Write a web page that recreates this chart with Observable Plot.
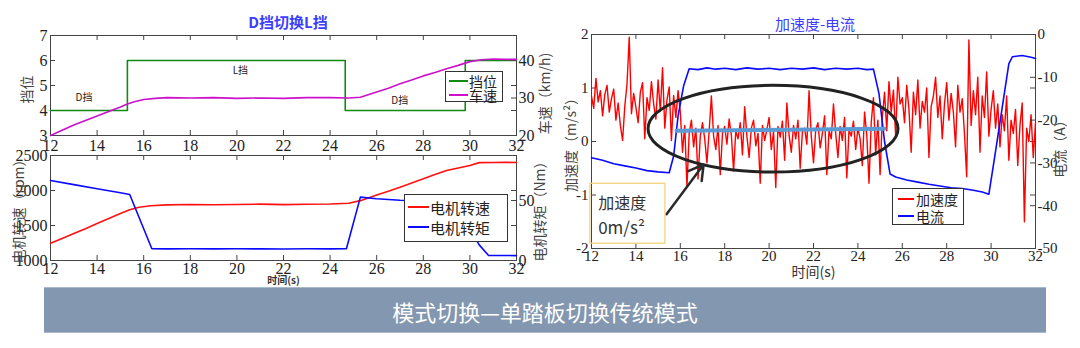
<!DOCTYPE html>
<html>
<head>
<meta charset="utf-8">
<script src="https://cdn.jsdelivr.net/npm/d3@7"></script>
<script src="https://cdn.jsdelivr.net/npm/@observablehq/plot@0.6"></script>
<style>
  html, body { margin: 0; padding: 0; background: #fff; }
  #chart { position: relative; width: 1080px; height: 348px; overflow: hidden; background: #fff;
           font-family: "Noto Sans CJK SC", "Noto Sans", sans-serif; }
  #chart svg { position: absolute; left: 0; top: 0; }
  .title { position: absolute; color: #3d3dff; font-size: 15px; white-space: nowrap;
           transform: translate(-50%, -50%); line-height: 1; }
  .legend { position: absolute; background: #fff; border: 1px solid #333; box-sizing: border-box; }
  .legend .row { position: absolute; white-space: nowrap; color: #222; }
  .legend .sw { position: absolute; height: 2px; }
  .banner { position: absolute; left: 44px; top: 287px; width: 1002px; height: 46px;
            background: #8497b0; color: #fff; font-size: 22px; line-height: 46px; text-align: center;
            border-top: 1px solid #a9b8cc; border-bottom: 1px solid #a9b8cc; box-sizing: border-box; }
</style>
</head>
<body>
<div id="chart"></div>
<script>
// ---------- data ----------
const timeTicks = [12, 14, 16, 18, 20, 22, 24, 26, 28, 30, 32];

// D → L gear change: gear position (step) and vehicle speed (km/h)
const gearT = [12, 15.3, 24.65, 29.8, 32];
const gearV = [4, 6, 4, 6, 6];
const gearTicks = [3, 4, 5, 6, 7];
const gearNotes = [
  {t: 13.44, v: 4.49, label: "D挡"},
  {t: 20.15, v: 5.6, label: "L挡"},
  {t: 26.99, v: 4.37, label: "D挡"}
];
const speedT = [12, 12.5, 13, 13.5, 14, 14.5, 15, 15.3, 15.6, 16, 16.5, 17, 18, 19, 20, 21, 22, 23, 24, 24.8,
                25.3, 25.8, 26.5, 27, 27.5, 28, 28.5, 29, 29.5, 30, 30.5, 31, 31.5, 32];
const speedV = [20.0, 21.4, 22.8, 24.0, 25.2, 26.4, 27.6, 28.4, 29.0, 29.6, 29.9, 30.1, 30.0, 30.1, 29.9, 30.0,
                29.9, 30.1, 30.1, 30.0, 30.2, 31.2, 32.6, 33.8, 34.8, 35.9, 36.8, 37.8, 38.7, 39.7, 40.2, 40.4,
                40.3, 40.3];
const speedTicks = [20, 30, 40];

// motor speed (rpm) and motor torque (Nm)
const rpmT = [12, 12.5, 13, 13.5, 14, 14.5, 15, 15.4, 15.8, 16.3, 17, 18, 19, 20, 21, 22, 23, 24, 24.8, 25.3,
              26, 26.5, 27, 27.5, 28, 28.5, 29, 29.5, 30, 30.4, 31, 31.5, 32];
const rpmV = [1245, 1315, 1385, 1455, 1530, 1600, 1672, 1725, 1760, 1782, 1795, 1800, 1796, 1800, 1805, 1798,
              1803, 1808, 1818, 1855, 1935, 1990, 2048, 2108, 2168, 2228, 2285, 2322, 2358, 2398, 2400, 2402, 2400];
const rpmTicks = [1000, 1500, 2000, 2500];
const torqueT = [12, 13, 14, 15, 15.4, 16.35, 17, 18, 19, 20, 21, 22, 23, 24, 24.7, 25.3, 26, 27, 28, 29, 29.3,
                 30.4, 30.8, 31.5, 32];
const torqueV = [66.7, 63.2, 59.8, 56.4, 55.0, 9.8, 9.7, 9.8, 9.7, 9.8, 9.7, 9.6, 9.8, 9.7, 9.8, 52.8, 51.5,
                 50.2, 49.6, 49.2, 48.8, 13.0, 4.2, 4.2, 4.1];
const torqueTicks = [0, 50];

// acceleration (m/s², sampled every 0.1 s from 12 s) and battery current (A)
const accStart = 12;
const accSamplesPerSecond = 10;
const accV = [
  0.85, 0.62, 1.18, 0.74, 0.95, 0.48, 0.88, 1.05, 0.55, 0.80,
  0.98, 0.40, 0.72, 0.30, 0.02, 0.66, 1.08, 1.95, 0.52, 0.90,
  0.64, 0.35, 0.92, 1.10, 0.05, 0.82, 0.58, 1.12, 0.70, 0.42,
  1.15, 0.56, 1.38, 0.25, 0.78, 1.02, 0.02, 0.86, 0.45, 0.95,
  0.55, -0.20, 0.30, -0.85, 0.15, 0.40, -0.10, 0.25, -0.70, 0.10,
  0.35, 0.05, -0.40, 0.20, 0.85, 0.10, -0.15, 0.30, -0.62, 0.15,
  0.28, -0.05, 0.42, 0.12, -0.55, 0.20, 0.05, 0.35, -0.25, 0.65,
  0.10, -0.30, 0.25, 0.40, -0.08, 0.15, -0.78, 0.30, 0.02, 0.22,
  0.45, -0.15, 0.18, -0.86, 0.28, 0.08, 0.38, -0.35, 0.72, 0.12,
  -0.20, 0.30, 0.05, 0.40, -0.50, 0.18, 0.25, -0.05, 0.95, 0.10,
  -0.40, 0.22, 0.35, -0.12, 0.15, 0.48, -0.62, 0.20, 0.05, 0.70,
  0.15, -0.30, 0.28, 0.02, 0.45, -0.68, 0.22, 0.10, 0.38, -0.15,
  0.25, 0.05, -0.45, 0.55, 0.12, -0.78, 0.35, 0.82, -0.25, 0.40,
  -0.62, 0.45, 0.92, 0.20, 1.12, 0.55, 0.96, 0.10, 1.20, 0.70,
  0.82, 0.35, 1.05, 0.60, -0.20, 0.92, 0.50, 1.15, 0.25, 0.75,
  0.55, 1.00, -0.30, 0.65, 0.85, 1.20, 0.45, 0.85, 0.05, 0.70,
  1.10, 0.40, 0.90, 0.55, -0.10, 1.05, 0.55, 0.80, 0.15, -0.66,
  1.90, 0.30, 0.95, 0.50, 1.20, -0.20, 0.85, 0.45, 1.30, 0.10,
  0.60, 0.95, 0.25, 0.70, -0.10, 0.50, 0.20, 0.85, -0.35, 0.40,
  0.15, 0.60, -0.45, 0.30, 0.72, -1.50, 0.25, 0.00, 0.50, -0.30,
  0.35
];
const accTicks = [-2, -1, 0, 1, 2];
const currentT = [12, 12.5, 13, 13.5, 14, 14.5, 15, 15.5, 15.7, 15.9, 16.15, 16.4, 16.8, 17.2, 17.6, 18, 18.5,
                  19, 19.5, 20, 20.5, 21, 21.5, 22, 22.5, 23, 23.5, 24, 24.4, 24.7, 24.95, 25.2, 25.45, 25.7,
                  26.2, 26.7, 27.2, 27.7, 28.2, 28.7, 29.2, 29.6, 29.9, 30.15, 30.5, 30.8, 30.96, 31.4, 31.8, 32];
const currentV = [-28.8, -29.4, -30.2, -30.7, -31.2, -31.8, -32.1, -32.3, -28.4, -19.0, -12.0, -8.0, -8.2, -7.8,
                  -8.1, -7.9, -8.2, -7.8, -8.1, -7.9, -8.2, -7.9, -8.1, -7.8, -8.2, -7.9, -8.1, -7.9, -8.2, -8.1,
                  -13.8, -25.0, -32.6, -33.3, -34.0, -34.5, -35.0, -35.4, -35.8, -36.0, -36.4, -36.8, -37.3,
                  -29.0, -17.1, -6.8, -5.2, -4.9, -5.3, -5.6];
const currentTicks = [0, -10, -20, -30, -40, -50];

// annotation of the single-pedal cruise phase (acceleration scale)
const cruiseZone = {t: 20.2, v: 0.23, halfT: 5.63, halfV: 0.81};
const cruiseLine = [{t: 15.83, v: 0.2}, {t: 25.2, v: 0.24}];
const cruiseArrow = [{t1: 15.38, v1: -1.36, t2: 17.05, v2: -0.43}];
const calloutBox = [{t1: 11.95, t2: 15.33, v1: -1.91, v2: -0.79}];
const calloutText = [{t: 12.3, v: -1.16, text: "加速度", size: 16}, {t: 12.3, v: -1.63, text: "0m/s²", size: 17}];

// text
const titles = ["D挡切换L挡", "加速度-电流"];
const legendTL = ["挡位", "车速"];
const legendBL = ["电机转速", "电机转矩"];
const legendR = ["加速度", "电流"];
const bannerText = "模式切换—单踏板切换传统模式";

// ---------- layout & style ----------
const W = 1080, H = 348;
const TL = {left: 50, right: 516, top: 35, bottom: 135};
const BL = {left: 50, right: 516, top: 155, bottom: 260};
const RP = {left: 591, right: 1035, top: 34, bottom: 248};
const SERIF = "'Liberation Serif', 'DejaVu Serif', serif";
const CJK = "'Noto Sans CJK SC', sans-serif";
const AXIS = "#444";
const TICK_LEN = 5;

const zip = (xs, ys) => xs.map((t, i) => ({t, v: ys[i]}));
const gear = zip(gearT, gearV);
const speed = zip(speedT, speedV);
const rpm = zip(rpmT, rpmV);
const torque = zip(torqueT, torqueV);
const acc = accV.map((v, i) => ({t: accStart + i / accSamplesPerSecond, v}));
const current = zip(currentT, currentV);

function layer(box, yDomain, marks) {
  return Plot.plot({
    width: W, height: H,
    marginLeft: box.left, marginRight: W - box.right, marginTop: box.top, marginBottom: H - box.bottom,
    x: {domain: [12, 32], axis: null},
    y: {domain: yDomain, axis: null},
    style: "background: transparent; overflow: visible;",
    marks
  });
}

// inward tick marks on the chosen sides of the frame
function ticksX(box, ticks) {
  const fh = box.bottom - box.top;
  return [
    Plot.tickX(ticks, {x: d => d, insetTop: fh - TICK_LEN, stroke: AXIS}),
    Plot.tickX(ticks, {x: d => d, insetBottom: fh - TICK_LEN, stroke: AXIS})
  ];
}
function ticksY(box, ticks, sides) {
  const fw = box.right - box.left;
  return sides.map(s => s === "left"
    ? Plot.tickY(ticks, {y: d => d, insetRight: fw - TICK_LEN, stroke: AXIS})
    : Plot.tickY(ticks, {y: d => d, insetLeft: fw - TICK_LEN, stroke: AXIS}));
}
function xLabels(ticks, pad, size) {
  return Plot.axisX(ticks, {anchor: "bottom", tickSize: 0, tickPadding: pad, tickFormat: d => String(d),
    fontSize: size, fontFamily: SERIF, color: "#222", label: null});
}
function yLabels(ticks, anchor, pad, size) {
  return Plot.axisY(ticks, {anchor, tickSize: 0, tickPadding: pad, tickFormat: d => String(d),
    fontSize: size, fontFamily: SERIF, color: "#222", label: null});
}
function sideLabel(text, anchor, dx, dy, size) {
  return Plot.text([text], {frameAnchor: anchor, text: d => d, rotate: -90, dx, dy, textAnchor: "middle",
    fontSize: size, fontFamily: CJK, fill: "#444"});
}

// ellipse drawn with the plot's own scales
function ellipse(zone, style) {
  return (index, scales) => {
    const e = document.createElementNS("http://www.w3.org/2000/svg", "ellipse");
    const cx = scales.x(zone.t), cy = scales.y(zone.v);
    e.setAttribute("cx", cx);
    e.setAttribute("cy", cy);
    e.setAttribute("rx", Math.abs(scales.x(zone.t + zone.halfT) - cx));
    e.setAttribute("ry", Math.abs(scales.y(zone.v + zone.halfV) - cy));
    e.setAttribute("fill", "none");
    e.setAttribute("stroke", style.stroke);
    e.setAttribute("stroke-width", style.width);
    return e;
  };
}

const chart = document.getElementById("chart");
const add = node => chart.appendChild(node);

// ---- top-left: gear & vehicle speed ----
add(layer(TL, [3, 7], [
  Plot.frame({stroke: AXIS}),
  ...ticksX(TL, timeTicks),
  ...ticksY(TL, gearTicks, ["left", "right"]),
  xLabels(timeTicks, 4, 16),
  yLabels(gearTicks, "left", 3, 16),
  Plot.line(gear, {x: "t", y: "v", curve: "step-after", stroke: "#138a13", strokeWidth: 1.6}),
  Plot.text(gearNotes, {x: "t", y: "v", text: "label", fontSize: 10, fontFamily: CJK, fill: "#222"}),
  sideLabel("挡位", "left", -22.5, 4, 14)
]));
add(layer(TL, [20, 46.67], [
  ...ticksY(TL, speedTicks, ["right"]),
  yLabels(speedTicks, "right", 2, 16),
  Plot.line(speed, {x: "t", y: "v", stroke: "#cc10cc", strokeWidth: 1.6}),
  sideLabel("车速（km/h)", "right", 29, 8, 14)
]));

// ---- bottom-left: motor speed & torque ----
add(layer(BL, [1000, 2500], [
  Plot.frame({stroke: AXIS}),
  ...ticksX(BL, timeTicks),
  ...ticksY(BL, rpmTicks, ["left", "right"]),
  xLabels(timeTicks, 2, 16),
  yLabels(rpmTicks, "left", 3, 16),
  Plot.line(rpm, {x: "t", y: "v", stroke: "#ff1010", strokeWidth: 1.6}),
  Plot.text(["时间(s)"], {frameAnchor: "bottom", dy: 23, fontSize: 10, fontWeight: "bold", fontFamily: CJK, fill: "#333"}),
  sideLabel("电机转速（rpm）", "left", -31, 0, 14)
]));
add(layer(BL, [0, 87.5], [
  ...ticksY(BL, torqueTicks, ["right"]),
  yLabels(torqueTicks, "right", 2, 16),
  Plot.line(torque, {x: "t", y: "v", stroke: "#0a0aff", strokeWidth: 1.6}),
  sideLabel("电机转矩（Nm）", "right", 24, 0, 14)
]));

// ---- right: acceleration & current ----
add(layer(RP, [-2, 2], [
  Plot.frame({stroke: AXIS}),
  ...ticksX(RP, timeTicks),
  ...ticksY(RP, accTicks, ["left", "right"]),
  xLabels(timeTicks, 2, 15),
  yLabels(accTicks, "left", 3, 15),
  Plot.line(acc, {x: "t", y: "v", stroke: "#ff0000", strokeWidth: 1.4}),
  Plot.text(["时间(s)"], {frameAnchor: "bottom", dy: 28, fontSize: 14, fontFamily: CJK, fill: "#333"}),
  sideLabel("加速度（m/s²）", "left", -20, 0, 14)
]));
add(layer(RP, [-50, 0], [
  ...ticksY(RP, currentTicks, ["right"]),
  yLabels(currentTicks, "right", 2, 15),
  Plot.line(current, {x: "t", y: "v", stroke: "#0a0aff", strokeWidth: 1.6}),
  sideLabel("电流（A）", "right", 25, 4, 14)
]));
add(layer(RP, [-2, 2], [
  ellipse(cruiseZone, {stroke: "#222", width: 3}),
  Plot.line(cruiseLine, {x: "t", y: "v", stroke: "#5b9bd5", strokeWidth: 4}),
  Plot.arrow(cruiseArrow, {x1: "t1", y1: "v1", x2: "t2", y2: "v2", stroke: "#2a2a2a", strokeWidth: 2.5, headLength: 10}),
  Plot.rect(calloutBox, {x1: "t1", x2: "t2", y1: "v1", y2: "v2", fill: "none", stroke: "#f2d27e", strokeWidth: 1.3}),
  Plot.text(calloutText, {x: "t", y: "v", text: "text", fontSize: "size", textAnchor: "start", fontFamily: CJK, fill: "#333"})
]));

// ---- titles, legends, banner ----
function html(tag, cls, text, css) {
  const el = document.createElement(tag);
  el.className = cls;
  if (text) el.textContent = text;
  Object.assign(el.style, css);
  chart.appendChild(el);
  return el;
}
html("div", "title", titles[0], {left: "288px", top: "21px", fontWeight: "bold"});
html("div", "title", titles[1], {left: "815px", top: "23px"});

function legend(labels, colors, box, rows, swatch, textLeft, size) {
  const el = html("div", "legend", "", {left: box[0] + "px", top: box[1] + "px", width: box[2] + "px", height: box[3] + "px"});
  labels.forEach((label, i) => {
    const sw = document.createElement("div");
    sw.className = "sw";
    Object.assign(sw.style, {left: swatch[0] + "px", width: swatch[1] + "px", top: (rows[i] - 1) + "px", background: colors[i]});
    el.appendChild(sw);
    const row = document.createElement("div");
    row.className = "row";
    row.textContent = label;
    Object.assign(row.style, {left: textLeft + "px", top: (rows[i] - size / 2) + "px", fontSize: size + "px", lineHeight: size + "px"});
    el.appendChild(row);
  });
}
legend(legendTL, ["#138a13", "#cc10cc"], [445, 71, 58, 31], [8.5, 23], [3, 19], 23, 14);
legend(legendBL, ["#ff1010", "#0a0aff"], [404, 194, 104, 48], [12, 32], [3, 21], 25, 15);
legend(legendR, ["#ff0000", "#0a0aff"], [892, 188, 72, 37], [10, 27], [5, 16], 23, 14);

html("div", "banner", bannerText, {});
</script>
</body>
</html>
